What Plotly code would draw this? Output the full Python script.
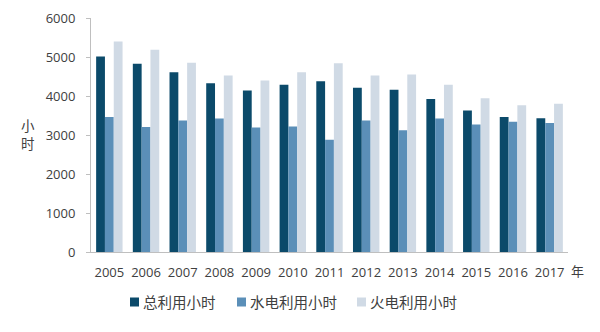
import plotly.graph_objects as go

years = ["2005", "2006", "2007", "2008", "2009", "2010", "2011",
         "2012", "2013", "2014", "2015", "2016", "2017"]
total_hours = [5010, 4825, 4610, 4330, 4140, 4290, 4380, 4210, 4160, 3920, 3630, 3460, 3430]
hydro_hours = [3460, 3205, 3375, 3420, 3195, 3220, 2880, 3375, 3120, 3420, 3270, 3340, 3310]
thermal_hours = [5400, 5185, 4850, 4525, 4400, 4610, 4840, 4525, 4550, 4290, 3945, 3760, 3800]

series_names = ["总利用小时", "水电利用小时", "火电利用小时"]
series_colors = ["#0b4a6a", "#5b8fb8", "#d0dae5"]

font_family = "Open Sans, Liberation Sans, Noto Sans CJK SC, sans-serif"
text_color = "#404040"

W, H = 600, 332
ML, MR, MT, MB = 91, 32, 18, 80
PW, PH = W - ML - MR, H - MT - MB


def px_x(x):
    return (x - ML) / PW


def px_y(y):
    return 1 - (y - MT) / PH


fig = go.Figure()
for name, vals, color in zip(series_names,
                             [total_hours, hydro_hours, thermal_hours],
                             series_colors):
    fig.add_trace(go.Bar(x=years, y=vals, name=name, showlegend=False,
                         marker=dict(color=color, line=dict(width=0))))

# hand-placed legend: small square swatch followed by the series name
legend_x = [130, 237, 357]
shapes = []
annotations = []
for lx, name, color in zip(legend_x, series_names, series_colors):
    shapes.append(dict(type="rect", xref="paper", yref="paper",
                       x0=px_x(lx), x1=px_x(lx + 9),
                       y0=px_y(306.5), y1=px_y(297.5),
                       fillcolor=color, line=dict(width=0)))
    annotations.append(dict(text=name, xref="paper", yref="paper",
                            x=px_x(lx + 11), y=px_y(302),
                            xanchor="left", yanchor="middle", showarrow=False,
                            font=dict(size=14.5, color=text_color)))

# stacked axis title and the unit after the last year
annotations.append(dict(text="小<br>时", xref="paper", yref="paper",
                        x=px_x(28), y=px_y(135), xanchor="center", yanchor="middle",
                        showarrow=False, font=dict(size=13.5, color=text_color)))
annotations.append(dict(text="年", xref="paper", yref="paper",
                        x=px_x(569), y=px_y(271), xanchor="left", yanchor="middle",
                        showarrow=False, font=dict(size=13, color=text_color)))

fig.update_layout(
    width=W, height=H,
    margin=dict(l=ML, r=MR, t=MT, b=MB, autoexpand=False),
    paper_bgcolor="white", plot_bgcolor="white",
    barmode="group", bargap=0.28, bargroupgap=0.0,
    font=dict(family=font_family, size=13, color=text_color),
    showlegend=False,
    xaxis=dict(showline=True, linecolor="#bfbfbf", linewidth=1,
               ticks="", showgrid=False, tickfont=dict(size=13),
               ticklabelstandoff=8),
    yaxis=dict(range=[0, 6000], dtick=1000, showline=True, linecolor="#bfbfbf",
               linewidth=1, ticks="outside", ticklen=4, tickcolor="#bfbfbf",
               showgrid=False, zeroline=False,
               tickfont=dict(size=13), ticklabelstandoff=8),
    shapes=shapes,
    annotations=annotations,
)

fig.write_html("out.html")
